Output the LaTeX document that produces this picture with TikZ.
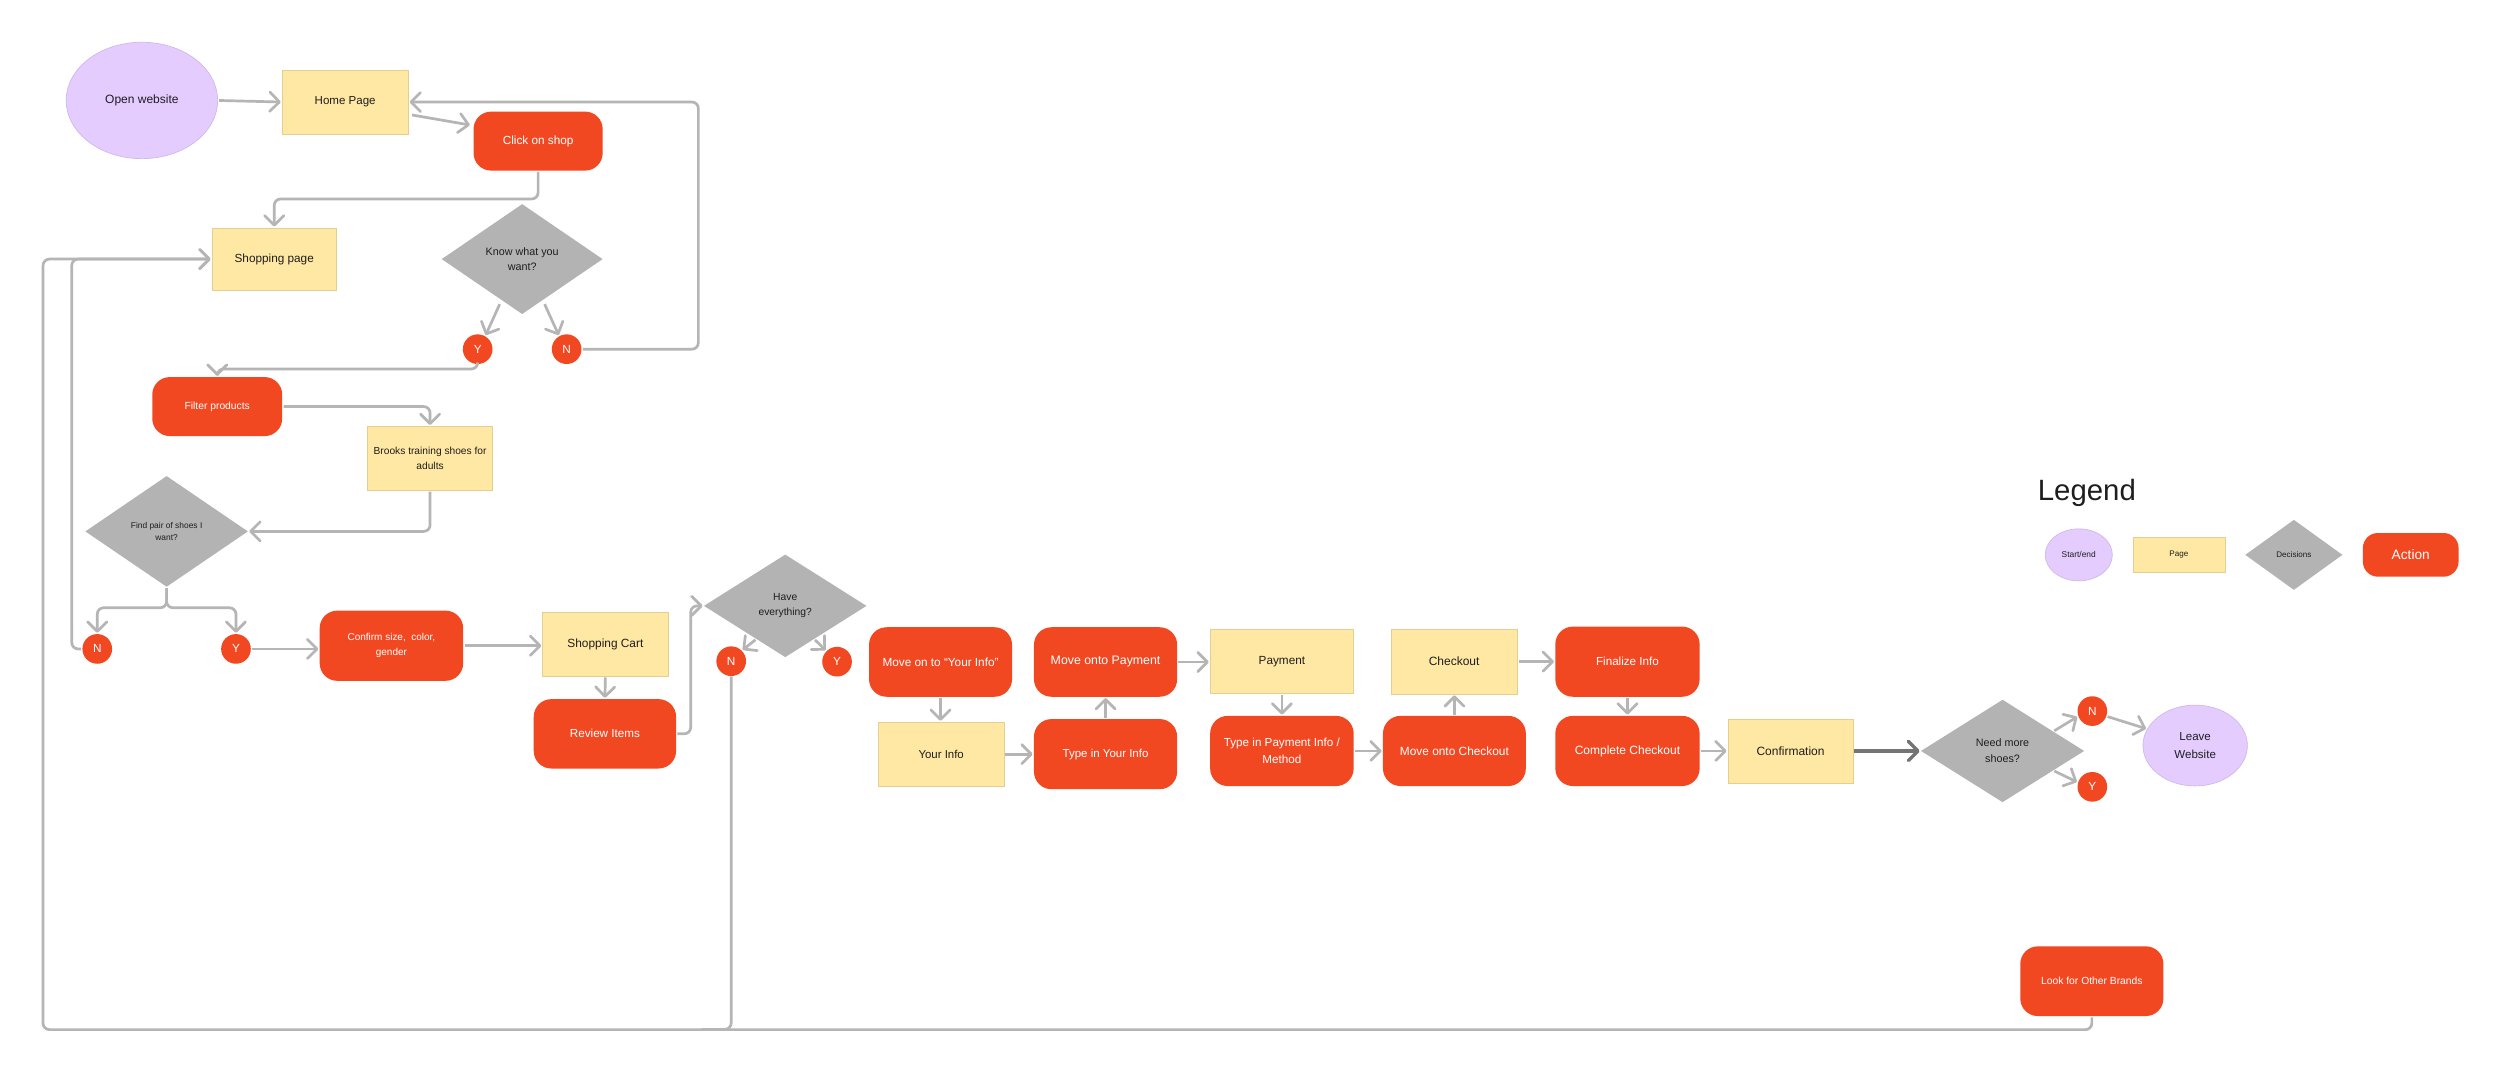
\documentclass[tikz,border=0pt]{standalone}
\usepackage{fontspec}
\setmainfont{Liberation Sans}
\usetikzlibrary{shapes.geometric,arrows.meta,calc}
\definecolor{corange}{HTML}{F24822}
\definecolor{cyellow}{HTML}{FFE8A3}
\definecolor{cyellowb}{HTML}{E3D08F}
\definecolor{cpurple}{HTML}{E4CCFF}
\definecolor{cpurpleb}{HTML}{CDB8E8}
\definecolor{cgray}{HTML}{B3B3B3}
\definecolor{cline}{HTML}{B5B5B5}
\definecolor{cdark}{HTML}{747474}
\definecolor{ctext}{HTML}{1E1E1E}
\newcommand\fsz[2]{\fontsize{#1}{#2}\selectfont}
\begin{document}
\begin{tikzpicture}[x=0.05cm,y=-0.05cm,
  page/.style={rectangle, fill=cyellow, draw=cyellowb, line width=0.6pt, text=ctext, inner sep=0pt, align=center},
  action/.style={rectangle, rounded corners=0.55cm, fill=corange, text=white, inner sep=0pt, align=center},
  decision/.style={diamond, fill=cgray, text=ctext, inner sep=0pt, align=center},
  startend/.style={ellipse, fill=cpurple, draw=cpurpleb, line width=0.6pt, text=ctext, inner sep=0pt, align=center},
  yn/.style={circle, fill=corange, text=white, minimum size=0.93cm, inner sep=0pt, font=\fsz{10.5}{12}},
  conn/.style={draw=cline, line width=2.4pt, rounded corners=0.2cm, shorten <=1pt, shorten >=1pt, -{Straight Barb[length=3mm,width=6mm,round]}},
  connplain/.style={draw=cline, line width=2.4pt, rounded corners=0.2cm}
]
\fill[white] (0,0) rectangle (1568,673);
\useasboundingbox (0,0) rectangle (1568,673);

% ---------- nodes ----------
\node[startend, minimum width=4.75cm, minimum height=3.65cm, font=\fsz{10.7}{13}] (open) at (89,63) {Open website};
\node[page, minimum width=3.95cm, minimum height=2cm, font=\fsz{10.3}{13}] (home) at (216.5,64) {Home Page};
\node[action, minimum width=4.05cm, minimum height=1.85cm, font=\fsz{10.5}{13}] (click) at (337.5,88.5) {Click on shop};
\node[page, minimum width=3.9cm, minimum height=1.95cm, font=\fsz{10.5}{13}] (shop) at (172,162.5) {Shopping page};
\node[decision, minimum width=5.05cm, minimum height=3.45cm, font=\fsz{9.6}{13.4}] (know) at (327.5,162.5) {Know what you\\want?};
\node[yn] (yk) at (299.6,219) {Y};
\node[yn] (nk) at (355.4,219) {N};
\node[action, minimum width=4.075cm, minimum height=1.85cm, font=\fsz{9.2}{12}] (filter) at (136.25,255) {Filter products};
\node[page, minimum width=3.925cm, minimum height=2cm, font=\fsz{9.1}{13.1}] (brooks) at (269.75,287.5) {Brooks training shoes for\\adults};
\node[decision, minimum width=5.1cm, minimum height=3.475cm, font=\fsz{7.5}{11.4}] (find) at (104.5,333.3) {Find pair of shoes I\\want?};
\node[yn] (nf) at (61,407) {N};
\node[yn] (yf) at (148,407) {Y};
\node[action, minimum width=4.5cm, minimum height=2.2cm, font=\fsz{8.9}{13.1}] (confirm) at (245.5,405) {Confirm size,\ \ color,\\gender};
\node[page, minimum width=3.93cm, minimum height=2cm, font=\fsz{10.6}{13}] (cart) at (379.7,404) {Shopping Cart};
\node[action, minimum width=4.465cm, minimum height=2.175cm, font=\fsz{10.4}{13}] (review) at (379.4,460.25) {Review Items};
\node[decision, minimum width=5.1cm, minimum height=3.22cm, font=\fsz{9.2}{13.4}] (have) at (492.5,380) {Have\\everything?};
\node[yn] (nh) at (458.6,414.7) {N};
\node[yn] (yh) at (525,415) {Y};

\node[action, minimum width=4.485cm, minimum height=2.18cm, font=\fsz{10.5}{13}] (moveinfo) at (589.9,415.2) {Move on to “Your Info”};
\node[action, minimum width=4.49cm, minimum height=2.18cm, font=\fsz{11}{13}] (movepay) at (693.4,415.2) {Move onto Payment};
\node[page, minimum width=4.5cm, minimum height=2cm, font=\fsz{10.5}{13}] (payment) at (804,415) {Payment};
\node[page, minimum width=3.93cm, minimum height=2cm, font=\fsz{10.2}{13}] (yourinfo) at (590.3,473) {Your Info};
\node[action, minimum width=4.49cm, minimum height=2.2cm, font=\fsz{10.25}{13}] (typeinfo) at (693.4,473) {Type in Your Info};
\node[action, minimum width=4.5cm, minimum height=2.2cm, font=\fsz{10.4}{15.5}] (typepay) at (804,471) {Type in Payment Info /\\Method};
\node[page, minimum width=3.95cm, minimum height=2.02cm, font=\fsz{10.7}{13}] (checkout) at (912,415) {Checkout};
\node[action, minimum width=4.48cm, minimum height=2.2cm, font=\fsz{10.6}{13}] (movecheck) at (912.2,471) {Move onto Checkout};
\node[action, minimum width=4.525cm, minimum height=2.2cm, font=\fsz{10.4}{13}] (finalize) at (1020.75,415) {Finalize Info};
\node[action, minimum width=4.525cm, minimum height=2.2cm, font=\fsz{10.7}{13}] (complete) at (1020.75,471) {Complete Checkout};
\node[page, minimum width=3.92cm, minimum height=2cm, font=\fsz{10.7}{13}] (confirmation) at (1123,471) {Confirmation};
\node[decision, minimum width=5.12cm, minimum height=3.215cm, font=\fsz{9.6}{14.2}] (need) at (1256,471) {Need more\\shoes?};
\node[yn] (nn) at (1312.3,446) {N};
\node[yn] (yn) at (1312.3,493.5) {Y};
\node[startend, minimum width=3.275cm, minimum height=2.535cm, font=\fsz{10.3}{15.5}] (leave) at (1376.8,467.6) {Leave\\Website};
\node[action, minimum width=4.49cm, minimum height=2.185cm, font=\fsz{9.2}{12}] (look) at (1312,615.4) {Look for Other Brands};

% ---------- legend ----------
\node[anchor=base west, font=\fsz{26.2}{30}, text=ctext, inner sep=0pt] (legtitle) at (1278,314) {Legend};
\node[startend, minimum width=2.105cm, minimum height=1.63cm, font=\fsz{7.5}{9}] (legstart) at (1303.8,348) {Start/end};
\node[page, minimum width=2.885cm, minimum height=1.1cm, font=\fsz{7.2}{9}] (legpage) at (1366.6,348) {Page};
\node[decision, minimum width=3.05cm, minimum height=2.2cm, font=\fsz{7.2}{9}] (legdec) at (1438.7,348) {Decisions};
\node[action, rounded corners=0.47cm, minimum width=3cm, minimum height=1.37cm, font=\fsz{12.2}{14}] (legact) at (1512,348) {Action};

% ---------- connectors ----------
\draw[conn] (open.east) -- (home.west);
\draw[conn] ($(home.east)+(1.5,8)$) -- ($(click.west)+(-1.5,-10)$);
\draw[conn] (nk.east) -| (438,64) -- (home.east);
\draw[conn] (click.south) |- ($(shop.north)+(0,-18)$) -- (shop.north);
\draw[conn] ($(know.south)+(-13.8,-7)$) -- (yk.60);
\draw[conn] ($(know.south)+(13.8,-7)$) -- (nk.120);
\draw[conn] (yk.south) -- ++(0,3) -| (filter.north);
\draw[conn] (filter.east) -| (brooks.north);
\draw[conn] (brooks.south) |- (find.east);
\draw[conn] (find.south) -- ++(0,13) -| (nf.north);
\draw[conn] (find.south) -- ++(0,13) -| (yf.north);
\draw[conn] (nf.west) -| (45,162.5) -- (shop.west);
\draw[conn] (look.south) -- ++(0,8.4) -| (27,162.5) -- (shop.west);
\draw[connplain] (nh.south) |- (440,645.6);
\draw[conn] (yf.east) -- (yf.east -| confirm.west);
\draw[conn] (confirm.east) -- (confirm.east -| cart.west);
\draw[conn] (cart.south) -- (review.north);
\draw[conn] (review.east) -- ++(9,0) |- (have.west);
\draw[conn] ($(have.west)!0.645!(have.south)$) -- (nh.45);
\draw[conn] ($(have.east)!0.645!(have.south)$) -- (yh.135);

\draw[conn] (moveinfo.south) -- (moveinfo.south |- yourinfo.north);
\draw[conn] (yourinfo.east) -- (yourinfo.east -| typeinfo.west);
\draw[conn] (typeinfo.north) -- (movepay.south);
\draw[conn] (movepay.east) -- (movepay.east -| payment.west);
\draw[conn] (payment.south) -- (typepay.north);
\draw[conn] (typepay.east) -- (typepay.east -| movecheck.west);
\draw[conn] (movecheck.north) -- (movecheck.north |- checkout.south);
\draw[conn] (checkout.east) -- (checkout.east -| finalize.west);
\draw[conn] (finalize.south) -- (complete.north);
\draw[conn] (complete.east) -- (complete.east -| confirmation.west);
\draw[conn, draw=cdark, line width=3pt] (confirmation.east) -- (need.west);
\draw[conn] ($(need.north)!0.62!(need.east)$) -- (nn.200);
\draw[conn] ($(need.south)!0.62!(need.east)$) -- (yn.163);
\draw[conn] (nn.-20) -- (leave.161);
\end{tikzpicture}
\end{document}
